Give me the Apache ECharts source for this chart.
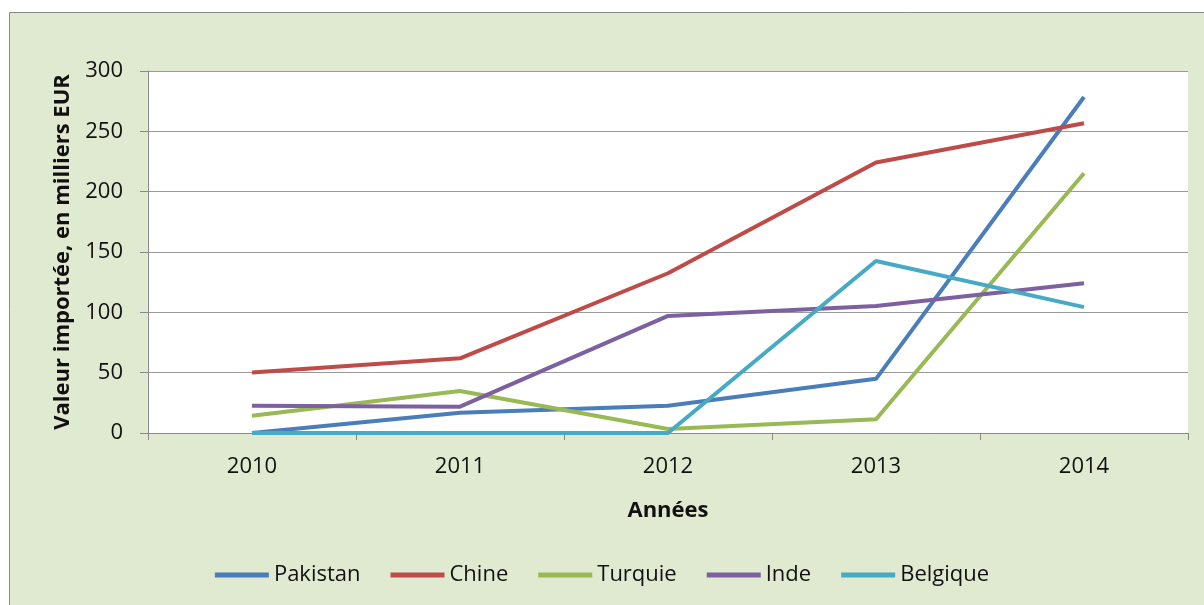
<!DOCTYPE html>
<html><head><meta charset="utf-8">
<script src="https://cdn.jsdelivr.net/npm/echarts@6/dist/echarts.min.js"></script>
<style>html,body{margin:0;padding:0;background:#fff}#c{width:1204px;height:605px}</style>
</head><body><div id="c"></div>
<script>
const years = ['2010','2011','2012','2013','2014'];
const pakistan = [0, 16.8, 22.6, 44.9, 278.5];
const chine = [50.2, 61.9, 132.4, 224.2, 256.7];
const turquie = [14.3, 34.8, 3.3, 11.4, 215.3];
const inde = [22.6, 21.8, 97.0, 105.2, 124.1];
const belgique = [0, 0, 0, 142.5, 104.3];
const names = ['Pakistan','Chine','Turquie','Inde','Belgique'];
const colors = ['#4a7ebb','#be4b48','#98b954','#7d60a0','#46aac5'];
const values = [pakistan, chine, turquie, inde, belgique];
const font = 'Open Sans, Liberation Sans, sans-serif';
const chart = echarts.init(document.getElementById('c'));
chart.setOption({
  backgroundColor: '#ffffff',
  animation: false,
  color: colors,
  graphic: [{type:'rect', z:-10, shape:{x:9.5,y:12.5,width:1200,height:600}, style:{fill:'#dfead1',stroke:'#8a8a8a',lineWidth:1}}],
  grid: {left:148, right:16, top:71, bottom:172, show:true, backgroundColor:'#ffffff', borderWidth:0},
  legend: {top:559, left:'center', itemWidth:54, itemHeight:5, itemGap:30, icon:'rect',
    textStyle:{fontFamily:font, fontSize:22, color:'#111'}, data:names},
  xAxis: {type:'category', data:years, boundaryGap:true,
    name:'Années', nameLocation:'middle', nameGap:67,
    nameTextStyle:{fontFamily:font, fontSize:22, fontWeight:'bold', color:'#111'},
    axisLine:{lineStyle:{color:'#8a8a8a', width:1}},
    axisTick:{show:true, length:7, lineStyle:{color:'#8a8a8a'}},
    axisLabel:{fontFamily:font, fontSize:22, color:'#111', margin:23}},
  yAxis: {type:'value', min:0, max:300, interval:50,
    name:'Valeur importée, en milliers EUR', nameLocation:'middle', nameGap:74,
    nameTextStyle:{fontFamily:font, fontSize:22, fontWeight:'bold', color:'#111'},
    axisLine:{show:true, lineStyle:{color:'#8a8a8a', width:1}},
    axisTick:{show:true, length:8, lineStyle:{color:'#8a8a8a'}},
    splitLine:{lineStyle:{color:'#9a9a9a', width:1}},
    axisLabel:{fontFamily:font, fontSize:22, color:'#111', margin:25}},
  series: names.map((n,i)=>({name:n, type:'line', data:values[i], symbol:'none',
    lineStyle:{width:4, color:colors[i]}, itemStyle:{color:colors[i]}}))
});
</script></body></html>
